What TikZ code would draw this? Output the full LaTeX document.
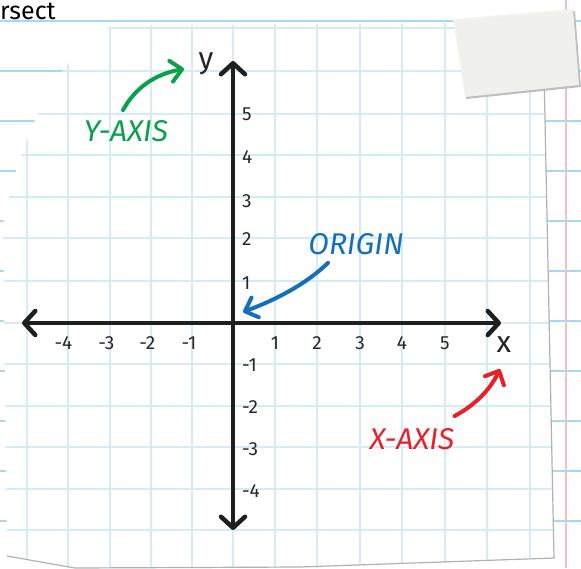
\documentclass[tikz,border=0pt]{standalone}
\usepackage{fontspec}
\setmainfont{Fira Sans}
\usetikzlibrary{
    arrows.meta
}
\definecolor{gridblue}{HTML}{D5EBF6}
\definecolor{lineblue}{HTML}{A6D8F2}
\definecolor{marginpink}{HTML}{F6BDD2}
\definecolor{axisgreen}{HTML}{0BA04C}
\definecolor{originblue}{HTML}{1670B8}
\definecolor{axisred}{HTML}{E8202A}
\definecolor{tapegray}{HTML}{F3F3EF}
\tikzset{
  axisline/.style={
    draw=black!88,
    line width=4.5pt,
    {Straight Barb[length=11pt,width=24pt,round]}-{Straight Barb[length=11pt,width=24pt,round]}
  },
  pointer/.style={
    line width=4pt,
    line cap=round,
    -{Straight Barb[length=11pt,width=21pt,round]}
  },
  ticklabel/.style={
    font=\fontsize{19}{19}\selectfont,
    text=black!85,
    inner sep=1pt
  },
  axisname/.style={
    font=\fontsize{30}{30}\selectfont,
    text=black!85,
    inner sep=1pt
  },
  tagtext/.style={
    font=\fontsize{30}{30}\selectfont\itshape,
    inner sep=1pt
  },
  gridline/.style={draw=gridblue, line width=2.6pt},
  ruled/.style={draw=lineblue, line width=2.6pt}
}

\begin{document}
\begin{tikzpicture}[x=1pt,y=-1pt]
    \useasboundingbox (0,0) rectangle (581,568);

    % 背景のページ
    \fill[white] (0,0) rectangle (581,568);
    \foreach \y in {21,71,...,571}
        \draw[ruled] (0,\y) -- (581,\y);
    \draw[marginpink, line width=2.6pt] (566,0) -- (566,568);
    \node[anchor=base west, font=\fontsize{25}{25}\selectfont, inner sep=0pt] (word) at (0,19) {rsect};

    % 方眼紙
    \fill[white] (7,556) -- (75,568) -- (300,567) -- (554,558) -- (543,22) -- (112,26)
        .. controls (65,48) and (22,125) .. (3,225) -- cycle;
    \begin{scope}
        \clip (7,556) -- (75,568) -- (300,567) -- (554,558) -- (543,22) -- (112,26)
            .. controls (65,48) and (22,125) .. (3,225) -- cycle;
        \foreach \x in {27,68,110,151,192,233,275,317,360,402,445,487,530}
            \draw[gridline] (\x,0) -- (\x,568);
        \foreach \y in {28,71,114,155,197,238,281,323,364,406,447,489,530}
            \draw[gridline] (0,\y) -- (581,\y);
    \end{scope}
    \draw[black!30, line width=1.2pt] (7,556) -- (75,568) -- (300,567) -- (554,558) -- (543,22);

    % 軸
    \coordinate (O) at (233,323);
    \coordinate (xl) at (22,323);
    \coordinate (xr) at (501,323);
    \coordinate (yt) at (233,61);
    \coordinate (yb) at (233,530);
    \draw[axisline] (xl) -- (xr);
    \draw[axisline] (yb) -- (yt);
    \node[axisname] (ylab) at (206,64) {y};
    \node[axisname] (xlab) at (504,345) {x};

    % 目盛り
    \foreach \i/\x in {-4/68,-3/110,-2/151,-1/192}
        \node[ticklabel, anchor=east] (xt\i) at (\x+5.5,343) {\i};
    \foreach \i/\x in {1/275,2/317,3/360,4/402,5/445}
        \node[ticklabel] (xt\i) at (\x,343) {\i};
    \foreach \i/\y in {5/114,4/157,3/201,2/239,1/283,-1/365,-2/407,-3/449,-4/491}
        \node[ticklabel, anchor=west] (yt\i) at (241,\y) {\i};

    % ラベル
    \node[tagtext, text=axisgreen] (yaxis) at (126,131) {Y-AXIS};
    \node[tagtext, text=originblue] (origin) at (356,244) {ORIGIN};
    \node[tagtext, text=axisred] (xaxis) at (412,439) {X-AXIS};
    \coordinate (ytip) at (184,69);
    \coordinate (otip) at (243,312);
    \coordinate (xtip) at (500,369);
    \draw[pointer, axisgreen] ([shift={(-3,-9)}]yaxis.north)
        .. controls (135,88) and (155,74) .. (ytip);
    \draw[pointer, originblue] ([shift={(-28,7)}]origin.south)
        .. controls (305,285) and (275,300) .. (otip);
    \draw[pointer, axisred] ([shift={(-1,-11)}]xaxis.north east)
        .. controls (475,405) and (490,390) .. (xtip);

    % テープ
    \fill[black!25] (455,21) -- (575,11) -- (581,87) -- (466,99) -- cycle;
    \fill[tapegray, opacity=0.95] (453,19) -- (573,9) -- (579,85) -- (465,97) -- cycle;
\end{tikzpicture}
\end{document}
